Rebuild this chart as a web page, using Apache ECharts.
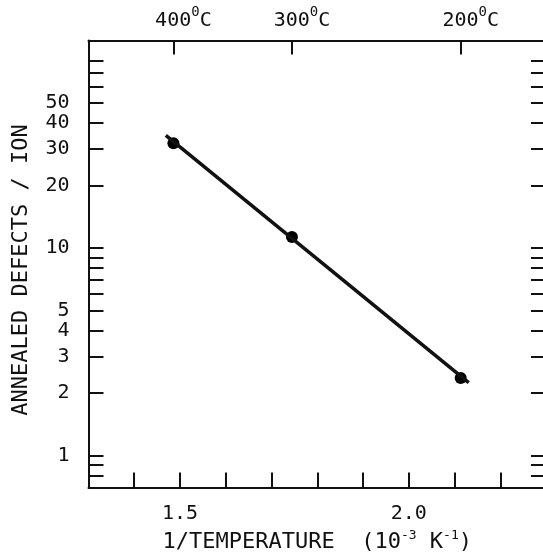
<!DOCTYPE html>
<html>
<head>
<meta charset="utf-8">
<script src="https://cdn.jsdelivr.net/npm/echarts@6/dist/echarts.min.js"></script>
<style>
  html, body { margin: 0; padding: 0; background: #fff; }
  #chart { width: 543px; height: 555px; }
</style>
</head>
<body>
<div id="chart"></div>
<script>
// Annealed defects per ion versus inverse annealing temperature (Arrhenius plot)
const xRange = [1.3, 2.3];            // 1/T, 10^-3 K^-1
const yRange = [0.7, 100];            // defects per ion, log scale
const xTicks = [1.4, 1.5, 1.6, 1.7, 1.8, 1.9, 2.0, 2.1, 2.2];
const xLabels = [1.5, 2.0];
const yTicks = [0.8, 0.9, 1, 2, 3, 4, 5, 6, 7, 8, 9, 10, 20, 30, 40, 50, 60, 70, 80];
const yLabels = [1, 2, 3, 4, 5, 10, 20, 30, 40, 50];
const tempC = [400, 300, 200];        // top scale, degrees Celsius

const measuredX = [1.4856, 1.7447, 2.1135];
const measuredY = [32, 11.3, 2.36];
const fitX = [1.469, 2.131];
const fitY = [34.9, 2.24];

const FONT = 'DejaVu Sans Mono';
const INK = '#111';

const invT = t => 1000 / (t + 273.15);
const tempTicks = tempC.map(invT);

const frameLine = { show: true, lineStyle: { color: INK, width: 2 } };
const tick = (values, len) => ({
  show: true, inside: true, length: len,
  customValues: values,
  lineStyle: { color: INK, width: 2 }
});

const chart = echarts.init(document.getElementById('chart'), null, { renderer: 'canvas' });

// the frame is slightly wider than the page, so its right edge falls just outside
chart.setOption({
  backgroundColor: '#fff',
  animation: false,
  grid: {
    left: 88.5, top: 40.5, width: 457.5, height: 447,
    containLabel: false, outerBoundsMode: 'none'
  },
  xAxis: [
    {
      type: 'value', position: 'bottom', min: xRange[0], max: xRange[1],
      axisLine: frameLine,
      axisTick: tick(xTicks, 15),
      splitLine: { show: false },
      axisLabel: {
        customValues: xLabels, margin: 16,
        formatter: v => v.toFixed(1),
        fontFamily: FONT, fontSize: 20, color: INK
      },
      name: '1/TEMPERATURE  (10{sup|-3} K{sup|-1})',
      nameLocation: 'middle', nameGap: 42,
      nameTextStyle: {
        fontFamily: FONT, fontSize: 22, color: INK, lineHeight: 26,
        rich: {
          sup: { fontFamily: FONT, fontSize: 13, color: INK, verticalAlign: 'top', lineHeight: 13 }
        }
      }
    },
    {
      type: 'value', position: 'top', min: xRange[0], max: xRange[1],
      axisLine: frameLine,
      axisTick: tick(tempTicks, 14),
      splitLine: { show: false },
      axisLabel: {
        customValues: tempTicks, margin: 5,
        formatter: v => '{n|' + Math.round(1000 / v - 273.15) + '}{s|0}{n|C}',
        rich: {
          n: { fontFamily: FONT, fontSize: 20, color: INK, lineHeight: 30 },
          s: { fontFamily: FONT, fontSize: 14, color: INK, verticalAlign: 'top', lineHeight: 14 }
        },
        padding: [0, 0, 0, 20]
      }
    }
  ],
  yAxis: [
    {
      type: 'log', logBase: 10, position: 'left', min: yRange[0], max: yRange[1],
      axisLine: frameLine,
      axisTick: tick(yTicks, 15),
      splitLine: { show: false },
      minorTick: { show: false },
      axisLabel: {
        customValues: yLabels, margin: 19,
        formatter: v => String(v),
        fontFamily: FONT, fontSize: 20, color: INK
      },
      name: 'ANNEALED DEFECTS / ION',
      nameLocation: 'middle', nameGap: 56, nameRotate: 90,
      nameTextStyle: { fontFamily: FONT, fontSize: 22, color: INK, padding: [0, 12, 0, 0] }
    },
    {
      type: 'log', logBase: 10, position: 'right', min: yRange[0], max: yRange[1],
      axisLine: frameLine,
      axisTick: tick(yTicks, 15),
      splitLine: { show: false },
      axisLabel: { show: false }
    }
  ],
  series: [
    {
      name: 'fit', type: 'line', xAxisIndex: 0, yAxisIndex: 0,
      data: fitX.map((x, i) => [x, fitY[i]]),
      showSymbol: false, silent: true,
      lineStyle: { color: INK, width: 3.5 }
    },
    {
      name: 'measured', type: 'scatter', xAxisIndex: 0, yAxisIndex: 0,
      data: measuredX.map((x, i) => [x, measuredY[i]]),
      symbol: 'circle', symbolSize: 12,
      itemStyle: { color: '#000', opacity: 1 }
    }
  ]
});
</script>
</body>
</html>
